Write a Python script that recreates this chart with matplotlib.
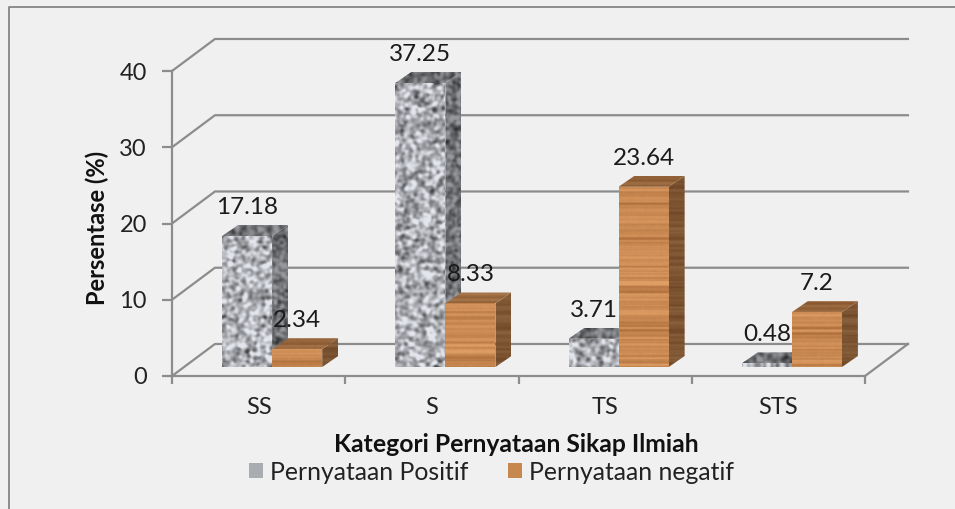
# Percentage of answers per attitude category, drawn as oblique 3D bars
import numpy as np
import matplotlib
matplotlib.use("Agg")
import matplotlib.pyplot as plt
from matplotlib.lines import Line2D
from matplotlib.patches import Polygon, Patch

categories = ["SS", "S", "TS", "STS"]
positive = [17.18, 37.25, 3.71, 0.48]
negative = [2.34, 8.33, 23.64, 7.2]
y_ticks = [0, 10, 20, 30, 40]

plt.rcParams['font.family'] = ['Lato', 'DejaVu Sans']

# depth of the chart box and of a bar, in data units
WALL_DX, WALL_DY = 0.248, 4.2
BAR_DX, BAR_DY = 0.092, 1.44
BAR_W = 0.289
BAR_X0 = 0.289
BAR_BASE = 1.18
GRID = '#8c8c8c'

rng = np.random.default_rng(4)


def blur(a, n):
    for _ in range(n):
        a = (a + np.roll(a, 1, 0) + np.roll(a, -1, 0) + np.roll(a, 1, 1) + np.roll(a, -1, 1)) / 5
    return a


def granite(h, w, shade):
    # surface look only, not chart data
    a = blur(rng.normal(size=(h, w)), 5)
    a = a / a.std()
    g = np.clip(176 + 34 * a, 70, 232) * shade / 255
    return np.dstack([g * 0.98, g * 0.99, g * 1.02]).clip(0, 1)


def wood(h, w, shade):
    # surface look only, not chart data
    rows = blur(rng.normal(size=(h, 1)), 1)
    rows = rows / rows.std()
    a = np.tile(rows, (1, w)) + 0.25 * blur(rng.normal(size=(h, w)), 1)
    t = np.clip(0.55 + 0.22 * a, 0, 1)[..., None]
    light = np.array([222, 158, 100]) / 255
    dark = np.array([176, 112, 60]) / 255
    return (dark + (light - dark) * t) * shade


def textured(ax, pts, img):
    pts = np.array(pts)
    im = ax.imshow(img, extent=(pts[:, 0].min(), pts[:, 0].max(), pts[:, 1].min(), pts[:, 1].max()),
                   aspect='auto', interpolation='bilinear', zorder=3, origin='lower')
    clip = Polygon(pts, closed=True, transform=ax.transData)
    im.set_clip_path(clip)


def draw_bar(ax, x0, value, texture, side_shade, top_shade):
    x1 = x0 + BAR_W
    y0, y1 = BAR_BASE, BAR_BASE + value
    top_h = max(int(BAR_DY * 7.6), 4)
    h = max(int(value * 7.6), 4)
    # side and top first, the front covers their shared edge
    textured(ax, [(x1, y0), (x1 + BAR_DX, y0 + BAR_DY), (x1 + BAR_DX, y1 + BAR_DY), (x1, y1)],
             texture(h + top_h, 16, side_shade))
    textured(ax, [(x0, y1), (x1, y1), (x1 + BAR_DX, y1 + BAR_DY), (x0 + BAR_DX, y1 + BAR_DY)],
             texture(top_h, 66, top_shade))
    textured(ax, [(x0, y0), (x1, y0), (x1, y1), (x0, y1)], texture(h, 50, 1.0))


def main():
    fig = plt.figure(figsize=(9.55, 5.09), dpi=100, facecolor='#f0f0f0')
    # only the top and left edge of the chart frame are in the picture
    fig.add_artist(Line2D([8.5 / 955, 8.5 / 955, 1], [0, 1 - 6.5 / 509, 1 - 6.5 / 509], color='#858585', lw=1.3,
                          transform=fig.transFigure))

    ax = fig.add_axes([172 / 955, 1 - 376 / 509, 693 / 955, 305 / 509])
    ax.patch.set_visible(False)

    # back wall gridlines and their diagonals
    for t in y_ticks:
        ax.plot([0, WALL_DX, 4 + WALL_DX], [t, t + WALL_DY, t + WALL_DY], color=GRID, lw=1.6,
                clip_on=False, zorder=1)
    ax.plot([4, 4 + WALL_DX], [0, WALL_DY], color=GRID, lw=1.6, clip_on=False, zorder=1)

    for i in range(len(categories)):
        x0 = i + BAR_X0
        draw_bar(ax, x0, positive[i], granite, 0.66, 0.66)
        draw_bar(ax, x0 + BAR_W, negative[i], wood, 0.62, 0.76)
        for x, v in ((x0, positive[i]), (x0 + BAR_W, negative[i])):
            ax.text(x + BAR_W / 2, BAR_BASE + v + BAR_DY + 2.3, str(v), ha='center', va='center',
                    fontsize=17.5, color='#1a1a1a', zorder=5, clip_on=False)

    ax.set_xlim(0, 4)
    ax.set_ylim(0, 40)
    ax.set_xticks(range(5))
    ax.set_xticklabels([])
    ax.set_xticks([i + 0.5 for i in range(4)], minor=True)
    ax.set_xticklabels(categories, minor=True, fontsize=17, color='#222222')
    ax.tick_params(axis='x', which='minor', length=0, pad=15)
    ax.tick_params(axis='x', which='major', length=6, width=1.6, color=GRID)
    ax.set_yticks(y_ticks)
    ax.tick_params(axis='y', length=7, width=1.6, color=GRID, labelsize=17, labelcolor='#222222', pad=11)
    for s in ('top', 'right'):
        ax.spines[s].set_visible(False)
    for s in ('left', 'bottom'):
        ax.spines[s].set_color(GRID)
        ax.spines[s].set_linewidth(1.6)

    fig.text(97 / 955, 1 - 228 / 509, "Persentase (%)", rotation=90, ha='center', va='center',
             fontsize=17, fontweight='bold', color='#111111')
    fig.text(516 / 955, 1 - 444 / 509, "Kategori Pernyataan Sikap Ilmiah", ha='center', va='center',
             fontsize=17.8, fontweight='bold', color='#111111')

    handles = [Patch(facecolor='#a9adb1', label="Pernyataan Positif"),
               Patch(facecolor='#c6884f', label="Pernyataan negatif")]
    fig.legend(handles=handles, ncol=2, frameon=False, loc='center', bbox_to_anchor=(491.5 / 955, 1 - 472 / 509),
               fontsize=17.8, handlelength=0.57, handleheight=0.57, handletextpad=0.3, columnspacing=1.6,
               labelcolor='#222222')

    fig.savefig("out.png", dpi=100, facecolor=fig.get_facecolor())
    return 0


if __name__ == "__main__":
    main()
